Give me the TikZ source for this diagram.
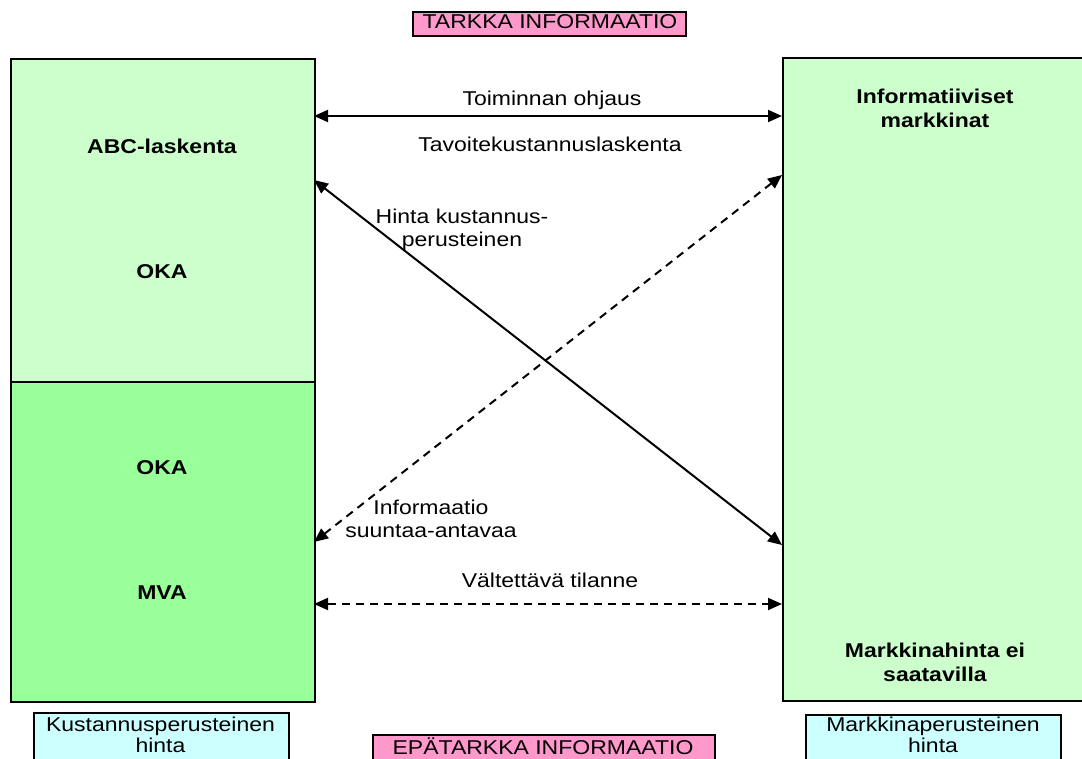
\documentclass[tikz,border=0pt]{standalone}
\usepackage{fontspec}
\setmainfont{Liberation Sans}[FakeStretch=1.15]
\usetikzlibrary{arrows.meta}
\definecolor{lgreen}{HTML}{CCFFCC}
\definecolor{mgreen}{HTML}{99FF99}
\definecolor{lcyan}{HTML}{CCFFFF}
\definecolor{lpink}{HTML}{FF99CC}
\begin{document}
\begin{tikzpicture}[x=1pt,y=-1pt,
  box/.style={draw=black, line width=2pt, anchor=north west, inner sep=0pt},
  tagbox/.style={draw=black, line width=1.5pt, anchor=north west, inner sep=0pt},
  txt/.style={font=\fontsize{20}{23}\selectfont, align=center, inner sep=0pt},
  tagtxt/.style={font=\fontsize{20}{21}\selectfont, align=center, inner sep=0pt},
  btxt/.style={font=\fontsize{20}{24}\selectfont\bfseries, align=center, inner sep=0pt},
  tip/.tip={Triangle[length=14pt,width=12pt]},
  conn/.style={line width=2pt, tip-tip},
  dconn/.style={conn, dash pattern=on 8pt off 6pt}]
\useasboundingbox (0,0) rectangle (1082,758);
\clip (0,0) rectangle (1082,758);
\fill[white] (0,0) rectangle (1082,758);

% main boxes
\node[box, fill=lgreen, minimum width=304pt, minimum height=323pt] (lu) at (10,58) {};
\node[box, fill=mgreen, minimum width=304pt, minimum height=320pt] (ll) at (10,381) {};
\node[box, fill=lgreen, minimum width=308pt, minimum height=643pt] (r) at (782,57) {};

% tag boxes
\node[tagbox, fill=lpink, minimum width=273pt, minimum height=24pt] (tarkka) at (412,11) {};
\node[txt, anchor=base] (tarkkat) at (550,28.5) {TARKKA INFORMAATIO};
\node[tagbox, fill=lpink, minimum width=342pt, minimum height=40pt] (epa) at (372,734) {};
\node[txt, anchor=base] (epat) at (543,754) {EPÄTARKKA INFORMAATIO};
\node[tagbox, fill=lcyan, minimum width=255pt, minimum height=60pt] (kb) at (33,712) {};
\node[tagtxt, anchor=north] (kbt) at (160.5,717) {Kustannusperusteinen\\hinta};
\node[tagbox, fill=lcyan, minimum width=255pt, minimum height=60pt] (mb) at (805,714) {};
\node[tagtxt, anchor=north] (mbt) at (933,717) {Markkinaperusteinen\\hinta};

% box texts
\node[btxt, anchor=base] (abc) at (162,153) {ABC-laskenta};
\node[btxt, anchor=base] (oka1) at (162,278) {OKA};
\node[btxt, anchor=base] (oka2) at (162,474) {OKA};
\node[btxt, anchor=base] (mva) at (162,599) {MVA};
\node[btxt, anchor=north] (inf) at (935,88.5) {Informatiiviset\\markkinat};
\node[btxt, anchor=north] (mh) at (935,642.5) {Markkinahinta ei\\saatavilla};

% connector end points on the box edges
\coordinate (t1) at (314,116);
\coordinate (t2) at (782,116);
\coordinate (s1) at (314,180);
\coordinate (s2) at (782,545);
\coordinate (d1) at (782,175);
\coordinate (d2) at (314,542);
\coordinate (b1) at (314,604);
\coordinate (b2) at (782,604);

\draw[conn] (t1) -- (t2);
\draw[conn] (s1) -- (s2);
\draw[dconn] (d1) -- (d2);
\draw[dconn] (b1) -- (b2);

% connector labels
\node[txt, anchor=base] (l1) at (552,105) {Toiminnan ohjaus};
\node[txt, anchor=base] (l2) at (550,151) {Tavoitekustannuslaskenta};
\node[txt, anchor=north] (l3) at (462,208.5) {Hinta kustannus-\\perusteinen};
\node[txt, anchor=north] (l4) at (431,499.5) {Informaatio\\suuntaa-antavaa};
\node[txt, anchor=base] (l5) at (550,587) {Vältettävä tilanne};
\end{tikzpicture}
\end{document}
